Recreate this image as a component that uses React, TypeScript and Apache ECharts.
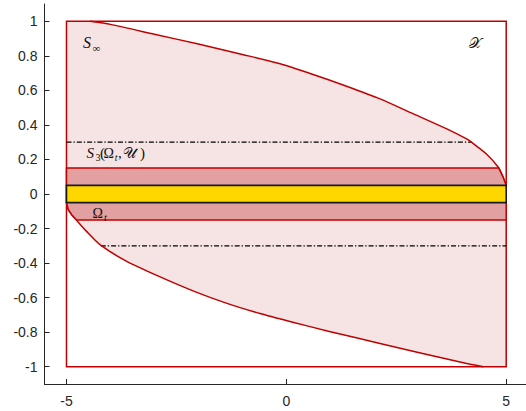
import React, { useEffect, useRef } from "react";
import * as echarts from "echarts";

// Boundary of S_infinity
const upperX = [-4.46, -4.0, -3.0, -2.0, -1.0, -0.14, 0.61, 1.37, 2.13, 2.89, 3.65, 4.1, 4.21, 4.55, 4.82, 4.93, 5.0];
const upperY = [1.0, 0.982, 0.925, 0.868, 0.808, 0.754, 0.692, 0.624, 0.551, 0.464, 0.377, 0.319, 0.3, 0.232, 0.155, 0.097, 0.05];
const lowerX = [-5.0, -4.96, -4.88, -4.76, -4.55, -4.23, -3.63, -2.87, -2.11, -1.35, -0.6, 0.08, 1.0, 2.13, 3.0, 4.0, 4.48];
const lowerY = [-0.05, -0.09, -0.12, -0.155, -0.215, -0.295, -0.39, -0.48, -0.562, -0.633, -0.692, -0.738, -0.797, -0.865, -0.918, -0.975, -1.0];

// State-space box X
const boxX = [-5, 5];
const boxY = [-1, 1];
// Bands
const s3Band = [-0.15, 0.15];
const s3Ends = [-4.77, 4.83]; // where the band edges meet the boundary
const omegaBand = [-0.05, 0.05];
// Dash-dot levels and their extents
const dashUpper = [[-5, 0.3], [4.21, 0.3]];
const dashLower = [[-4.22, -0.3], [5, -0.3]];

// Ticks
const xTicks = [-5, 0, 5];
const yTicks = [-1, -0.8, -0.6, -0.4, -0.2, 0, 0.2, 0.4, 0.6, 0.8, 1];

const RED = "#c00000";

function customSeries(z: number, build: (api: any) => any) {
  return {
    type: "custom",
    coordinateSystem: "cartesian2d",
    silent: true,
    clip: false,
    z,
    data: [[0, 0]],
    renderItem: (_params: any, api: any) => build(api),
  };
}

export default function App() {
  const ref = useRef<HTMLDivElement>(null);
  useEffect(() => {
    if (!ref.current) return;
    const chart = echarts.init(ref.current, undefined, { renderer: "svg" });

    const upper = upperX.map((x, i) => [x, upperY[i]]);
    const lower = lowerX.map((x, i) => [x, lowerY[i]]);

    const rectX = [
      [boxX[0], boxY[0]],
      [boxX[1], boxY[0]],
      [boxX[1], boxY[1]],
      [boxX[0], boxY[1]],
    ];
    const sInf = [[boxX[0], boxY[1]], ...upper, [boxX[1], boxY[0]], ...lower.slice().reverse()];

    const s3 = [
      [boxX[0], s3Band[1]],
      [s3Ends[1], s3Band[1]],
      ...upper.filter((p) => p[1] < s3Band[1]),
      [boxX[1], s3Band[0]],
      [s3Ends[0], s3Band[0]],
      ...lower.filter((p) => p[1] > s3Band[0]).reverse(),
    ];
    const omega = [
      [boxX[0], omegaBand[0]],
      [boxX[1], omegaBand[0]],
      [boxX[1], omegaBand[1]],
      [boxX[0], omegaBand[1]],
    ];

    const dashLine = (data: number[][]) => ({
      type: "line",
      data,
      symbol: "none",
      silent: true,
      z: 4,
      lineStyle: { color: "#000", width: 1.3, type: [5, 2, 1.3, 2] },
    });

    const axisCommon = {
      axisLine: { onZero: false, lineStyle: { color: "#262626", width: 1 } },
      axisTick: { inside: true, length: 5, lineStyle: { color: "#262626" } },
      splitLine: { show: false },
    };

    const serif = "'Liberation Serif', 'DejaVu Serif', serif";
    const txt = (text: string, x: number, y: number, size: number, italic = false) => ({
      type: "text",
      x,
      y,
      silent: true,
      z: 100,
      style: {
        text,
        fontSize: size,
        fontFamily: serif,
        fontStyle: italic ? "italic" : "normal",
        fill: "#111",
        align: "left",
        verticalAlign: "middle",
      },
    });

    const labelFont = "'Liberation Sans', Arial, sans-serif";

    chart.setOption({
      animation: false,
      backgroundColor: "#fff",
      grid: { left: 44.5, top: 4, right: 0, height: 380, containLabel: false },
      xAxis: {
        type: "value",
        min: -5.5,
        max: 5.45,
        ...axisCommon,
        axisTick: { ...axisCommon.axisTick, customValues: xTicks },
        axisLabel: {
          customValues: xTicks,
          color: "#262626",
          fontSize: 14,
          fontFamily: labelFont,
          margin: 10,
          formatter: (v: number) => String(v),
        },
      },
      yAxis: {
        type: "value",
        min: -1.1,
        max: 1.1,
        ...axisCommon,
        axisTick: { ...axisCommon.axisTick, customValues: yTicks },
        axisLabel: {
          customValues: yTicks,
          color: "#262626",
          fontSize: 14,
          fontFamily: labelFont,
          margin: 7,
          formatter: (v: number) => String(v),
        },
      },
      series: [
        // S_infinity fill
        customSeries(2, (api) => ({
          type: "polygon",
          shape: { points: sInf.map((p) => api.coord(p)) },
          style: { fill: "#f6e4e4", stroke: "none" },
        })),
        // box X outline
        customSeries(3, (api) => ({
          type: "polygon",
          shape: { points: rectX.map((p) => api.coord(p)) },
          style: { fill: "none", stroke: RED, lineWidth: 1.5 },
        })),
        dashLine(dashUpper),
        dashLine(dashLower),
        // S_infinity boundary curves
        customSeries(5, (api) => ({
          type: "group",
          children: [
            {
              type: "polyline",
              shape: { points: upper.map((p) => api.coord(p)), smooth: 0.25 },
              style: { fill: "none", stroke: RED, lineWidth: 1.5 },
            },
            {
              type: "polyline",
              shape: { points: lower.map((p) => api.coord(p)), smooth: 0.25 },
              style: { fill: "none", stroke: RED, lineWidth: 1.5 },
            },
          ],
        })),
        // S_3 band
        customSeries(6, (api) => ({
          type: "polygon",
          shape: { points: s3.map((p) => api.coord(p)) },
          style: { fill: "#e2a0a0", stroke: RED, lineWidth: 1.5 },
        })),
        // Omega_t
        customSeries(7, (api) => ({
          type: "polygon",
          shape: { points: omega.map((p) => api.coord(p)) },
          style: { fill: "#ffd700", stroke: "#1a1a1a", lineWidth: 1.6 },
        })),
      ],
      graphic: [
        txt("S", 83, 42.5, 16, true),
        txt("\u221E", 92.5, 47.5, 11),
        txt("\uD835\uDCB3", 469, 42.5, 15),
        txt("S", 86.5, 153, 15, true),
        txt("3", 95.5, 157.5, 10),
        txt("(", 100, 153, 15),
        txt("\u03A9", 103.5, 153, 14),
        txt("t", 114.8, 157.5, 10, true),
        txt(",", 118, 153, 15),
        txt("\uD835\uDCB0", 123, 153, 15),
        txt(")", 140, 153, 15),
        txt("\u03A9", 92.5, 213, 14),
        txt("t", 104, 217.5, 10, true),
      ],
    });
    return () => chart.dispose();
  }, []);
  return (
    <div
      ref={ref}
      style={{ position: "fixed", left: 0, top: 0, width: 526, height: 411, background: "#fff" }}
    />
  );
}
